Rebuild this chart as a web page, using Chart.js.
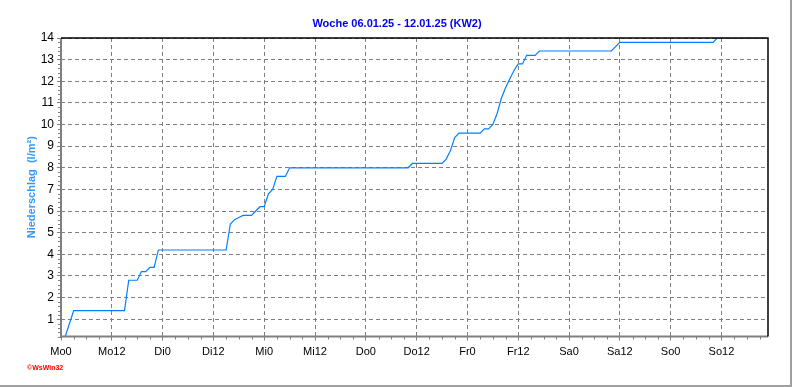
<!DOCTYPE html>
<html>
<head>
<meta charset="utf-8">
<script src="https://cdn.jsdelivr.net/npm/chart.js@4.4.1/dist/chart.umd.min.js"></script>
<style>
  html, body { margin: 0; padding: 0; background: #ffffff; }
  canvas { display: block; }
</style>
</head>
<body>
<canvas id="c" width="792" height="387"></canvas>
<script>
// ---- data ----
const chartTitle = 'Woche 06.01.25 - 12.01.25 (KW2)';
const yAxisTitle = 'Niederschlag  (l/m\u00B2)';
const watermark = '\u00A9WsWin32';

// hourly cumulative precipitation (l/m²), Mo 0:00 ... So 23:00
const rainValues = [
  0.2,0.2,0.8,1.4,1.4,1.4,1.4,1.4,1.4,1.4,1.4,1.4,
  1.4,1.4,1.4,1.4,2.8,2.8,2.8,3.2,3.2,3.4,3.4,4.2,
  4.2,4.2,4.2,4.2,4.2,4.2,4.2,4.2,4.2,4.2,4.2,4.2,
  4.2,4.2,4.2,4.2,5.4,5.6,5.7,5.8,5.8,5.8,6.0,6.2,
  6.2,6.8,7.0,7.6,7.6,7.6,8.0,8.0,8.0,8.0,8.0,8.0,
  8.0,8.0,8.0,8.0,8.0,8.0,8.0,8.0,8.0,8.0,8.0,8.0,
  8.0,8.0,8.0,8.0,8.0,8.0,8.0,8.0,8.0,8.0,8.0,8.2,
  8.2,8.2,8.2,8.2,8.2,8.2,8.2,8.4,8.8,9.4,9.6,9.6,
  9.6,9.6,9.6,9.6,9.8,9.8,10.0,10.5,11.2,11.7,12.1,12.5,
  12.8,12.8,13.2,13.2,13.2,13.4,13.4,13.4,13.4,13.4,13.4,13.4,
  13.4,13.4,13.4,13.4,13.4,13.4,13.4,13.4,13.4,13.4,13.4,13.6,
  13.8,13.8,13.8,13.8,13.8,13.8,13.8,13.8,13.8,13.8,13.8,13.8,
  13.8,13.8,13.8,13.8,13.8,13.8,13.8,13.8,13.8,13.8,13.8,14.0,
  14.0,14.0,14.0,14.0,14.0,14.0,14.0,14.0,14.0,14.0,14.0,14.0
];

const xTickHours  = [0, 12, 24, 36, 48, 60, 72, 84, 96, 108, 120, 132, 144, 156];
const xTickLabels = ['Mo0','Mo12','Di0','Di12','Mi0','Mi12','Do0','Do12','Fr0','Fr12','Sa0','Sa12','So0','So12'];
const yTickValues = [1,2,3,4,5,6,7,8,9,10,11,12,13,14];
const xMinorStepHours = 3;
const yMinorStep = 0.2;
const xMin = 0, xMax = 167, yMin = 0.2, yMax = 14;

const FONT = "'Liberation Sans', Arial, sans-serif";

const points = rainValues.map((v, i) => ({ x: i, y: v }));

const decorPlugin = {
  id: 'decor',
  afterDraw(chart) {
    const ctx = chart.ctx;
    const a = chart.chartArea;
    const xs = chart.scales.x, ys = chart.scales.y;
    ctx.save();
    // minor ticks x
    ctx.strokeStyle = '#808080';
    ctx.lineWidth = 1;
    ctx.beginPath();
    for (let h = xMin; h <= xMax; h += xMinorStepHours) {
      if (h % 12 === 0) continue;
      const px = Math.round(xs.getPixelForValue(h)) + 0.5;
      ctx.moveTo(px, a.bottom);
      ctx.lineTo(px, a.bottom + 3);
    }
    // minor ticks y
    for (let k = Math.round(yMin / yMinorStep); k * yMinorStep <= yMax + 1e-9; k++) {
      const v = k * yMinorStep;
      if (Math.abs(v - Math.round(v)) < 1e-6) continue;
      const py = Math.round(ys.getPixelForValue(v)) + 0.5;
      ctx.moveTo(a.left - 3, py);
      ctx.lineTo(a.left, py);
    }
    ctx.stroke();
    // solid gray axes (left & bottom)
    ctx.strokeStyle = '#808080';
    ctx.lineWidth = 2;
    ctx.beginPath();
    ctx.moveTo(a.left, a.top);
    ctx.lineTo(a.left, a.bottom);
    ctx.lineTo(a.right, a.bottom);
    ctx.stroke();
    // black top & right frame
    ctx.strokeStyle = '#000000';
    ctx.lineWidth = 1.5;
    ctx.beginPath();
    ctx.moveTo(a.left, a.top);
    ctx.lineTo(a.right, a.top);
    ctx.lineTo(a.right, a.bottom);
    ctx.stroke();
    // title
    ctx.fillStyle = '#0000ee';
    ctx.font = "bold 11px " + FONT;
    ctx.textAlign = 'center';
    ctx.textBaseline = 'middle';
    ctx.fillText(chartTitle, 397, 24);
    // watermark
    ctx.fillStyle = '#ff0000';
    ctx.font = "bold 7px " + FONT;
    ctx.textAlign = 'left';
    ctx.fillText(watermark, 27, 368);
    // outer frame (right/bottom)
    ctx.fillStyle = '#a0a0a0';
    ctx.fillRect(790, 0, 2, 387);
    ctx.fillRect(0, 385, 792, 2);
    ctx.restore();
  }
};

new Chart(document.getElementById('c'), {
  type: 'line',
  data: {
    datasets: [{
      data: points,
      borderColor: '#0080ff',
      borderWidth: 1.2,
      pointRadius: 0,
      tension: 0,
      fill: false
    }]
  },
  options: {
    responsive: false,
    animation: false,
    devicePixelRatio: 1,
    layout: { padding: { left: 0, right: 24, top: 38, bottom: 0 } },
    plugins: {
      legend: { display: false },
      title: { display: false },
      tooltip: { enabled: false }
    },
    scales: {
      x: {
        type: 'linear',
        min: xMin,
        max: xMax,
        afterBuildTicks(scale) { scale.ticks = xTickHours.map(v => ({ value: v })); },
        afterFit(scale) { scale.height = 50.5; },
        ticks: {
          autoSkip: false,
          maxRotation: 0,
          color: '#000000',
          font: { family: FONT, size: 11 },
          padding: 5,
          callback(value, index) { return xTickLabels[index]; }
        },
        grid: {
          color: '#808080',
          lineWidth: 1,
          drawTicks: true,
          tickLength: 4,
          tickColor: '#808080',
          tickBorderDash: []
        },
        border: { display: false, dash: [4, 3] }
      },
      y: {
        type: 'linear',
        min: yMin,
        max: yMax,
        afterBuildTicks(scale) { scale.ticks = yTickValues.map(v => ({ value: v })); },
        afterFit(scale) { scale.width = 61; },
        ticks: {
          color: '#000000',
          font: { family: FONT, size: 12 },
          padding: 3,
          callback(value) { return String(value); }
        },
        title: {
          display: true,
          text: yAxisTitle,
          color: '#3399ff',
          font: { family: FONT, size: 11, weight: 'bold' },
          padding: { top: 25, bottom: 0 }
        },
        grid: {
          color: '#808080',
          lineWidth: 1,
          drawTicks: true,
          tickLength: 4,
          tickColor: '#808080',
          tickBorderDash: []
        },
        border: { display: false, dash: [4, 3] }
      }
    }
  },
  plugins: [decorPlugin]
});
</script>
</body>
</html>
